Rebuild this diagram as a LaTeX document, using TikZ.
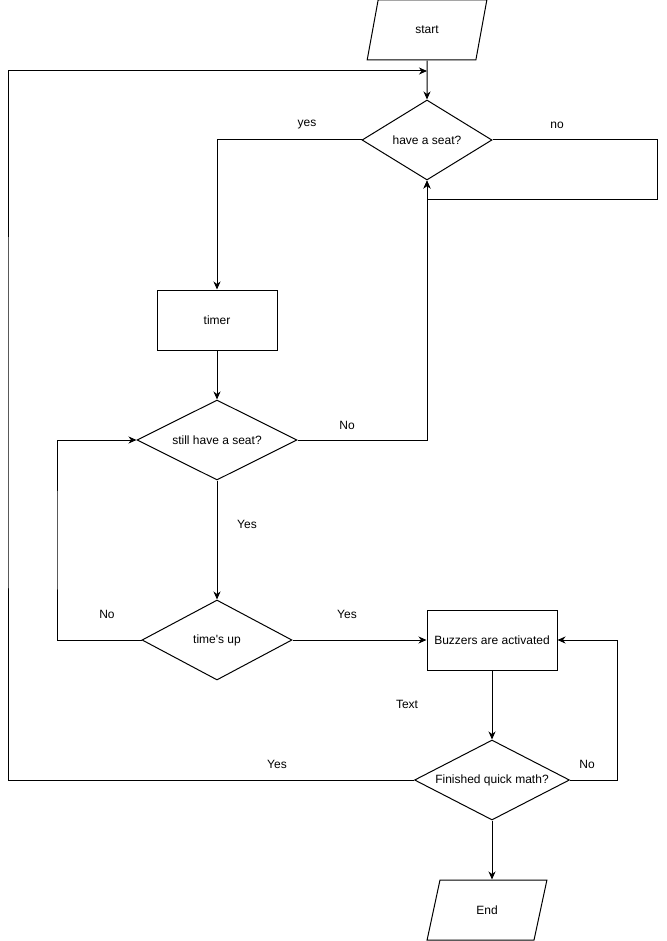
\documentclass[tikz,border=0pt]{standalone}
\usepackage{fontspec}
\setmainfont{Liberation Sans}
\usetikzlibrary{shapes.geometric,arrows.meta,positioning,calc}

\begin{document}
\begin{tikzpicture}[x=1pt, y=-1pt,
  chart/.style={draw, line width=1pt, font=\fontsize{12}{14}\selectfont, inner sep=0pt},
  io/.style={chart, trapezium, trapezium left angle=71.6, trapezium right angle=108.4,
    trapezium stretches=true, minimum width=120pt, minimum height=60pt},
  process/.style={chart, rectangle, minimum width=#1, minimum height=60pt},
  decision/.style={chart, diamond, aspect=2.5, minimum width=#1, minimum height=80pt},
  lbl/.style={font=\fontsize{12}{14}\selectfont, inner sep=0pt},
  flow/.style={->, >={Stealth[length=8pt, width=7pt, inset=2.5pt]}, line width=1pt}
]
\useasboundingbox (0,0) rectangle (666,941);

% boxes
\node[io] (start) at (427,30) {start};
\node[decision=130pt] (seat) at (427,140) {have a seat?};
\node[process=120pt] (timer) at (217,320) {timer};
\node[decision=160pt] (still) at (217,440) {still have a seat?};
\node[decision=150pt] (times) at (217,640) {time\textquotesingle s up};
\node[process=130pt] (buzz) at (492,640) {Buzzers are activated};
\node[decision=155pt] (fin) at (492,780) {Finished quick math?};
\node[io] (stop) at (487,910) {End};

% bends
\coordinate (entry) at (427,71);
\coordinate (nobend) at (657,200);
\coordinate (loopa) at (57,540);
\coordinate (loopb) at (617,700);
\coordinate (loopc) at (8,400);

% labels
\node[lbl] (lyes) at (307,125) {yes};
\node[lbl] (lno) at (557,125) {no};
\node[lbl] (lstillno) at (347,425) {No};
\node[lbl] (lstillyes) at (247,524) {Yes};
\node[lbl] (ltimeno) at (107,614) {No};
\node[lbl] (ltimeyes) at (347,614) {Yes};
\node[lbl] (ltext) at (407,704) {Text};
\node[lbl] (lfinyes) at (277,764) {Yes};
\node[lbl] (lfinno) at (587,764) {No};

% connectors
\draw[flow] (start.south) -- (seat.north);
\draw[flow] (seat.west) -| (timer.north);
\draw[flow] (seat.east) -| (nobend) -| (seat.south);
\draw[flow] (timer.south) -- (still.north);
\draw[flow] (still.east) -| (seat.south);
\draw[flow] (still.south) -- (times.north);
\draw[flow] (times.west) -| (loopa) |- (still.west);
\draw[flow] (times.east) -- (buzz.west);
\draw[flow] (buzz.south) -- (fin.north);
\draw[flow] (fin.east) -| (loopb) |- (buzz.east);
\draw[flow] (fin.west) -| (loopc) |- (entry);
\draw[flow] (fin.south) -- (fin.south |- stop.north);
\end{tikzpicture}
\end{document}
